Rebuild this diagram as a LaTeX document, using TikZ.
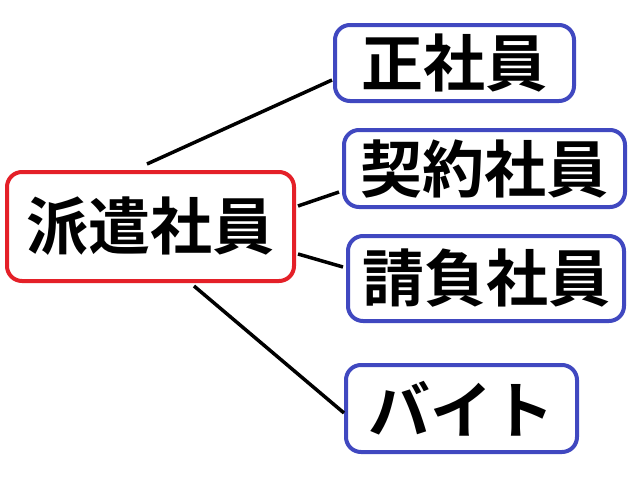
\documentclass[tikz,border=0pt]{standalone}
\usepackage{fontspec}
\newfontfamily\jpfont{Noto Sans CJK JP}[BoldFont={Noto Sans CJK JP Bold}]
\usepackage{xcolor}
\usetikzlibrary{calc}
\definecolor{hakenred}{RGB}{228,32,40}
\definecolor{kindblue}{RGB}{64,72,192}
\tikzset{
	box/.style={
			draw, line width=4pt, rounded corners=15pt, fill=white, inner sep=0pt,
			font=\jpfont\bfseries\fontsize{62}{62}\selectfont
		}
}

\begin{document}
\begin{tikzpicture}[x=1pt, y=-1pt, MainBox/.style={box, draw=hakenred}, KindBox/.style={box, draw=kindblue}, Link/.style={line width=3.5pt}]
		\useasboundingbox[fill=white] (0,0) rectangle (640,480);
		\node[MainBox, minimum width=287pt, minimum height=109pt] (haken) at (150.5,226.5) {派遣社員};
		\node[KindBox, minimum width=239pt, minimum height=76pt] (sei) at (454.5,63) {正社員};
		\node[KindBox, minimum width=281pt, minimum height=77pt] (keiyaku) at (484.5,168.5) {契約社員};
		\node[KindBox, minimum width=276pt, minimum height=85pt] (ukeoi) at (486,278.5) {請負社員};
		\node[KindBox, minimum width=231pt, minimum height=87pt] (baito) at (461.5,408.5) {バイト};
		\draw[Link] ($(haken.north)+(-3.5,-6)$) -- ($(sei.west)+(-1,17)$);
		\draw[Link] ($(haken.east)+(2,-20.5)$) -- ($(keiyaku.west)+(-3,23.5)$);
		\draw[Link] ($(haken.east)+(2,27.5)$) -- ($(ukeoi.west)+(-3,-11.5)$);
		\draw[Link] ($(haken.south)+(43.5,3)$) -- ($(baito.west)+(0,4.5)$);
	\end{tikzpicture}
\end{document}
